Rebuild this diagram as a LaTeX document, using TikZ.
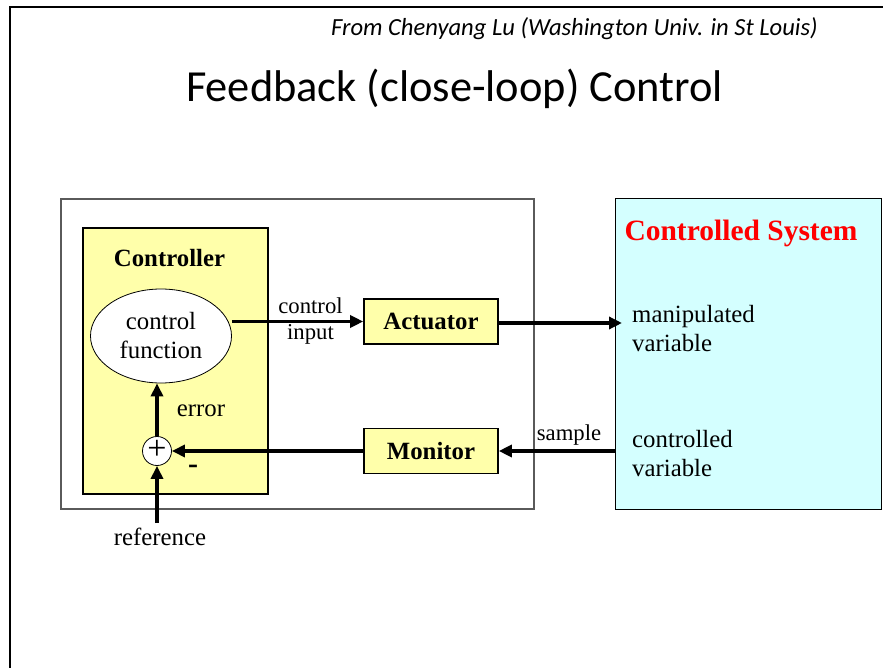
\documentclass[tikz,border=0pt]{standalone}
\usepackage{fontspec}
\setmainfont{Liberation Serif}
\newfontfamily\calibri{Carlito}
\usetikzlibrary{arrows.meta,shapes.geometric}
\definecolor{boxyellow}{RGB}{255,255,170}
\definecolor{syscyan}{RGB}{212,255,255}
\definecolor{framegray}{RGB}{90,90,90}
\tikzset{
  sig/.style={line width=3.6pt,-{Triangle[length=13pt,width=12pt]}},
  ybox/.style={draw=black,line width=1.6pt,fill=boxyellow,inner sep=0pt,font=\fontsize{24.8}{29}\selectfont\bfseries},
  lbl/.style={inner sep=0pt,font=\fontsize{24.8}{29}\selectfont,align=center},
  slbl/.style={inner sep=0pt,font=\fontsize{22.7}{26}\selectfont,align=center},
}
\begin{document}
\begin{tikzpicture}[x=1pt,y=-1pt]
\useasboundingbox (0,0) rectangle (884,668);
% slide frame
\draw[line width=2.5pt] (10,668) -- (10,7) -- (883,7);
% header
\node[anchor=east,inner sep=0pt,font=\calibri\itshape\fontsize{24.6}{28}\selectfont] (src) at (818,29) {From Chenyang Lu (Washington Univ. in St Louis)};
\node[inner sep=0pt,font=\calibri\fontsize{44.4}{52}\selectfont] (title) at (454.5,89) {Feedback (close-loop) Control};
% outer gray box
\node[draw=framegray,line width=2.2pt,minimum width=473,minimum height=310,inner sep=0pt] (outer) at (297.5,354) {};
% controlled system
\node[draw=black,line width=1pt,fill=syscyan,minimum width=266,minimum height=310,inner sep=0pt] (cs) at (748.7,354) {};
\node[inner sep=0pt,text=red,font=\fontsize{29.5}{34}\selectfont\bfseries] (cstitle) at (741,233) {Controlled System};
\node[anchor=west,inner sep=0pt,align=left,font=\fontsize{24.8}{29}\selectfont] (manip) at (632,328.5) {manipulated\\variable};
\node[anchor=west,inner sep=0pt,align=left,font=\fontsize{24.8}{29}\selectfont] (contr) at (632,454) {controlled\\variable};
% controller
\node[ybox,minimum width=185,minimum height=266] (ctrl) at (175.5,361) {};
\node[inner sep=0pt,font=\fontsize{24.8}{29}\selectfont\bfseries] (ctrltitle) at (169.5,258) {Controller};
\node[ellipse,draw=black,line width=0.8pt,fill=white,minimum width=141,minimum height=94,inner sep=0pt,align=center,font=\fontsize{24.8}{29}\selectfont] (fn) at (161,336) {control\\function};
\node[circle,draw=black,line width=0.8pt,fill=white,minimum size=29,inner sep=0pt] (sum) at (157,451) {};
\node[inner sep=0pt,font=\fontsize{34}{38}\selectfont] (plus) at (157,450) {+};
\node[lbl] (err) at (201,411) {error};
\node[inner sep=0pt,font=\fontsize{30}{32}\selectfont\bfseries] (minus) at (193,469) {-};
% actuator / monitor
\node[ybox,minimum width=134,minimum height=45] (act) at (431,321.5) {Actuator};
\node[ybox,minimum width=134,minimum height=45] (mon) at (431,451) {Monitor};
% labels
\node[slbl] (cinput) at (310.5,321) {control\\input};
\node[slbl] (sample) at (569,435) {sample};
\node[lbl] (ref) at (160,537) {reference};
% connectors
\coordinate (reftail) at (157,523);
\coordinate (maniptip) at (622,323);
\draw[sig] (fn.east |- act.west) -- (act.west);
\draw[sig] (act.east |- maniptip) -- (maniptip);
\draw[sig] (cs.west |- mon.east) -- (mon.east);
\draw[sig] (mon.west) -- (sum.east);
\draw[sig] (sum.north) -- (sum.north |- fn.south);
\draw[sig] (reftail) -- (sum.south);
\end{tikzpicture}
\end{document}
